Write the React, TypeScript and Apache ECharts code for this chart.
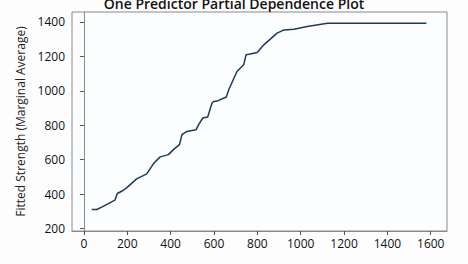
import React, { useEffect, useRef } from "react";
import * as echarts from "echarts";

const titleText = "One Predictor Partial Dependence Plot";
const yAxisTitle = "Fitted Strength (Marginal Average)";
const xTicks = [0, 200, 400, 600, 800, 1000, 1200, 1400, 1600];
const yTicks = [200, 400, 600, 800, 1000, 1200, 1400];

const predictorValues = [
  36, 59, 82, 143, 154, 174, 197, 243, 290, 321, 352, 390, 413, 441, 452, 475,
  518, 529, 549, 571, 591, 598, 614, 657, 668, 706, 737, 748, 761, 799, 830,
  891, 923, 969, 1030, 1124, 1580,
];
const fittedValues = [
  310, 310, 324, 364, 403, 416, 436, 488, 517, 577, 616, 629, 658, 687, 745, 764,
  774, 803, 842, 848, 929, 938, 940, 964, 1006, 1112, 1151, 1210, 1212, 1222, 1267,
  1335, 1354, 1358, 1374, 1393, 1393,
];

export default function App() {
  const ref = useRef<HTMLDivElement>(null);
  useEffect(() => {
    if (!ref.current) return;
    const chart = echarts.init(ref.current, null, { renderer: "svg" });
    const font = "'Open Sans', 'Noto Sans', sans-serif";
    chart.setOption({
      animation: false,
      backgroundColor: "#fdfdfe",
      textStyle: { fontFamily: font },
      title: {
        text: titleText,
        left: "center",
        top: -9,
        textStyle: { fontSize: 14, fontWeight: 600, color: "#111", fontFamily: font },
      },
      grid: {
        left: 72,
        right: 21,
        top: 12,
        bottom: 33,
        show: true,
        borderColor: "#8a8a8a",
        borderWidth: 1,
        backgroundColor: "#fbfdff",
      },
      xAxis: {
        type: "value",
        min: -55,
        max: 1675,
        splitLine: { show: false },
        axisLine: { show: true, onZero: false, lineStyle: { color: "#8a8a8a" } },
        axisTick: {
          show: true,
          length: 4,
          customValues: xTicks,
          lineStyle: { color: "#555" },
        },
        axisLabel: {
          customValues: xTicks,
          formatter: (v: number) => String(v),
          color: "#111",
          fontSize: 12,
          margin: 6,
          fontFamily: font,
        },
      },
      yAxis: {
        type: "value",
        min: 185,
        max: 1458,
        name: yAxisTitle,
        nameLocation: "middle",
        nameGap: 40,
        nameTextStyle: { fontSize: 12, color: "#222", fontFamily: font },
        splitLine: { show: false },
        axisLine: { show: true, lineStyle: { color: "#8a8a8a" } },
        axisTick: {
          show: true,
          length: 4,
          customValues: yTicks,
          lineStyle: { color: "#555" },
        },
        axisLabel: {
          customValues: yTicks,
          formatter: (v: number) => String(v),
          color: "#111",
          fontSize: 12,
          margin: 7,
          fontFamily: font,
        },
      },
      series: [
        {
          type: "line",
          data: predictorValues.map((x, i) => [x, fittedValues[i]]),
          showSymbol: false,
          lineStyle: { color: "#1c3a5c", width: 1.5 },
        },
      ],
    });
    return () => chart.dispose();
  }, []);
  return (
    <div
      ref={ref}
      style={{ position: "fixed", left: 0, top: 0, width: 468, height: 264 }}
    />
  );
}
